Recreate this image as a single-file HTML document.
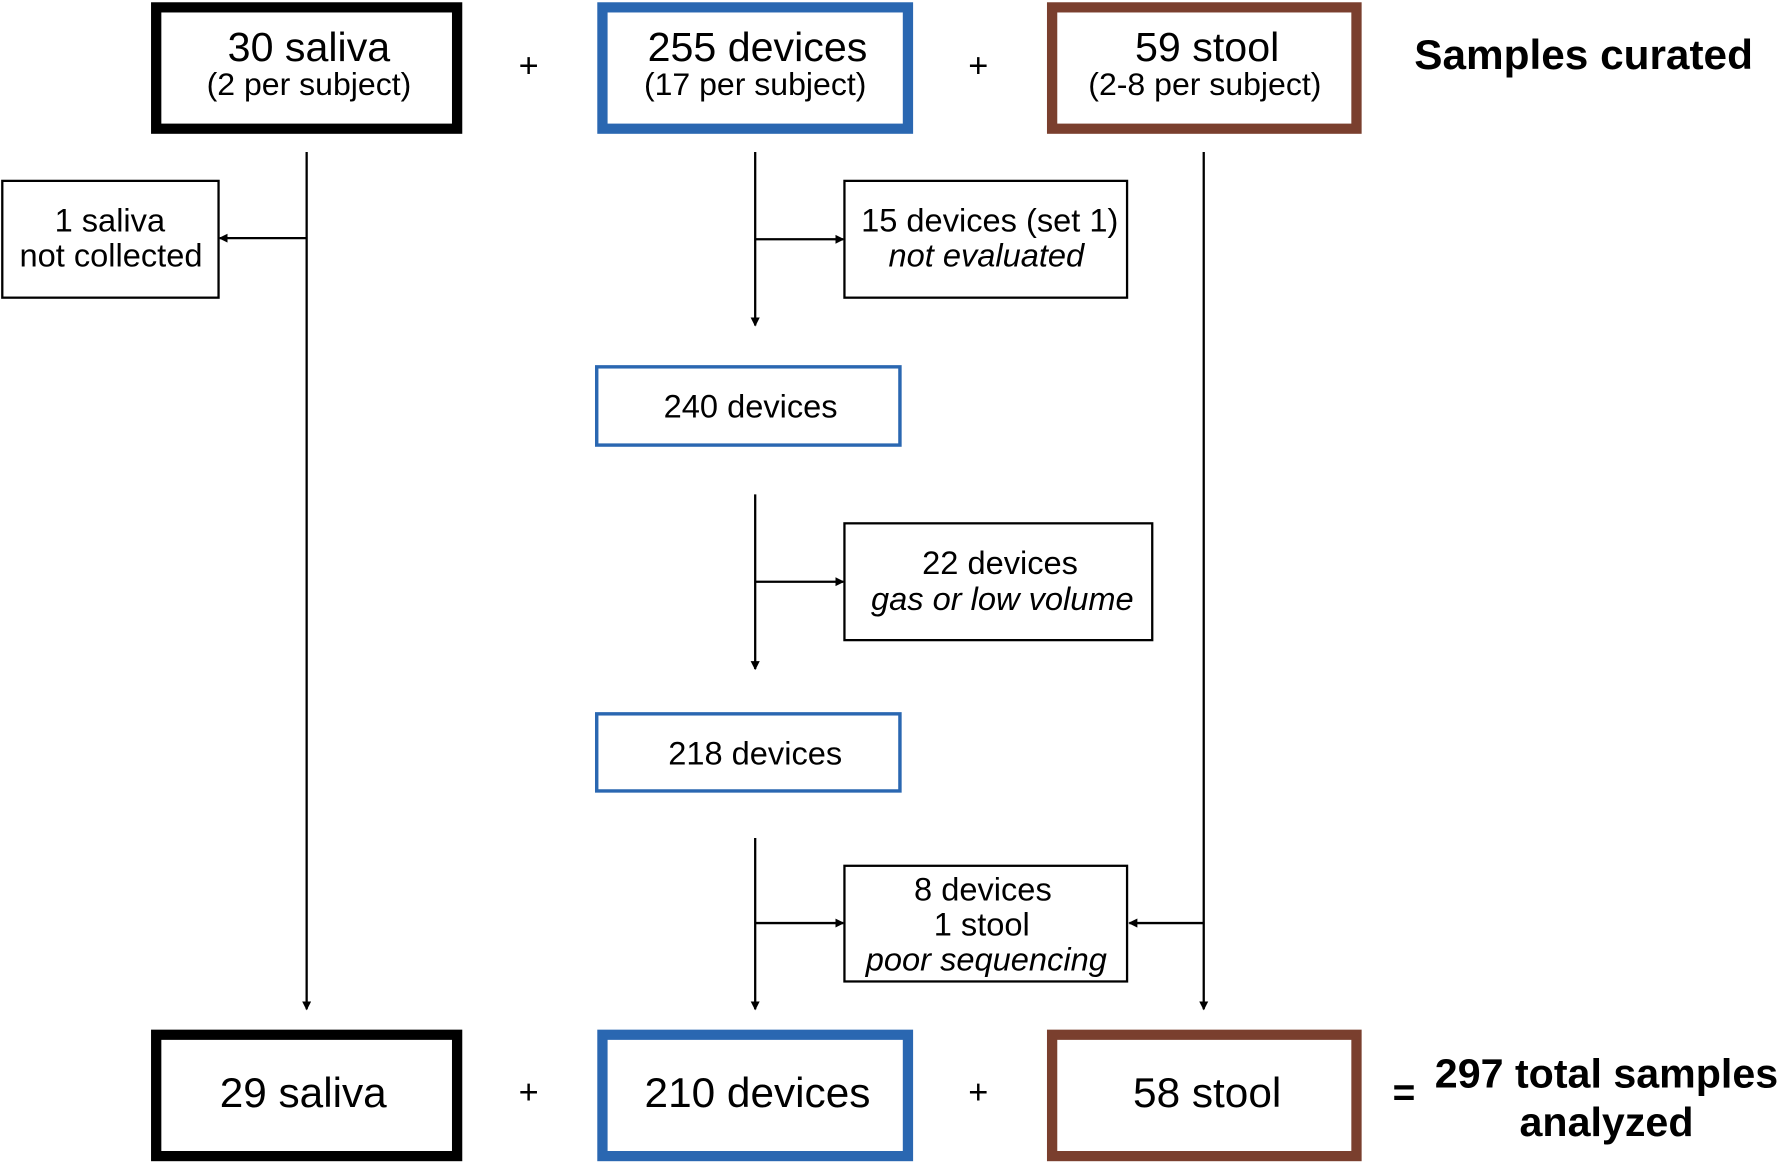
<!DOCTYPE html>
<html><head><meta charset="utf-8"><style>
html,body{margin:0;padding:0;background:#fff;}
svg{display:block;font-family:"Liberation Sans",Arial,sans-serif;}
</style></head><body>
<svg width="1785" height="1168" viewBox="0 0 1560 1030" preserveAspectRatio="none">
<defs><marker id="ah" markerWidth="8" markerHeight="8" refX="7" refY="4" orient="auto" markerUnits="userSpaceOnUse"><path d="M0,0 L8,4 L0,8 z" fill="#000"/></marker></defs>
<g>
<rect x="136.5" y="6.5" width="263" height="107" fill="none" stroke="#000" stroke-width="9"/>
<text x="270" y="54" font-size="36" text-anchor="middle">30 saliva</text>
<text x="270" y="84" font-size="28" text-anchor="middle">(2 per subject)</text></g>
<g>
<rect x="526.5" y="6.5" width="267" height="107" fill="none" stroke="#2a67b1" stroke-width="9"/>
<text x="662" y="54" font-size="36" text-anchor="middle">255 devices</text>
<text x="660" y="84" font-size="28" text-anchor="middle">(17 per subject)</text></g>
<g>
<rect x="919.5" y="6.5" width="266" height="107" fill="none" stroke="#7a3f2e" stroke-width="9"/>
<text x="1055" y="54" font-size="36" text-anchor="middle">59 stool</text>
<text x="1053" y="84" font-size="28" text-anchor="middle">(2-8 per subject)</text></g>
<text x="462" y="68" font-size="30" text-anchor="middle">+</text>
<text x="855" y="68" font-size="30" text-anchor="middle">+</text>
<text x="1384" y="61" font-size="37" font-weight="bold" text-anchor="middle">Samples curated</text>
<g stroke="#000" stroke-width="2" fill="none">
<line x1="268" y1="134" x2="268" y2="890" marker-end="url(#ah)"/>
<line x1="268" y1="210" x2="192" y2="210" marker-end="url(#ah)"/>
<line x1="660" y1="134" x2="660" y2="287" marker-end="url(#ah)"/>
<line x1="660" y1="211" x2="737" y2="211" marker-end="url(#ah)"/>
<line x1="660" y1="436" x2="660" y2="590" marker-end="url(#ah)"/>
<line x1="660" y1="513" x2="737" y2="513" marker-end="url(#ah)"/>
<line x1="660" y1="739" x2="660" y2="890" marker-end="url(#ah)"/>
<line x1="660" y1="814" x2="737" y2="814" marker-end="url(#ah)"/>
<line x1="1052" y1="134" x2="1052" y2="890" marker-end="url(#ah)"/>
<line x1="1052" y1="814" x2="987" y2="814" marker-end="url(#ah)"/>
</g>
<g>
<rect x="2" y="159.5" width="189" height="103" fill="none" stroke="#000" stroke-width="2"/>
<text x="96" y="204" font-size="28.5" text-anchor="middle">1 saliva</text>
<text x="97" y="235" font-size="28.5" text-anchor="middle">not collected</text></g>
<g>
<rect x="738" y="159.5" width="247" height="103" fill="none" stroke="#000" stroke-width="2"/>
<text x="865" y="204" font-size="28.5" text-anchor="middle">15 devices (set 1)</text>
<text x="862" y="235" font-size="28.5" font-style="italic" text-anchor="middle">not evaluated</text></g>
<g>
<rect x="521.5" y="323.5" width="265" height="69" fill="none" stroke="#2a67b1" stroke-width="3"/>
<text x="656" y="368" font-size="28.5" text-anchor="middle">240 devices</text></g>
<g>
<rect x="738" y="461.5" width="269" height="103" fill="none" stroke="#000" stroke-width="2"/>
<text x="874" y="506" font-size="28.5" text-anchor="middle">22 devices</text>
<text x="876" y="538" font-size="28.5" font-style="italic" text-anchor="middle">gas or low volume</text></g>
<g>
<rect x="521.5" y="629.5" width="265" height="68" fill="none" stroke="#2a67b1" stroke-width="3"/>
<text x="660" y="674" font-size="28.5" text-anchor="middle">218 devices</text></g>
<g>
<rect x="738" y="763.5" width="247" height="102" fill="none" stroke="#000" stroke-width="2"/>
<text x="859" y="794" font-size="28.5" text-anchor="middle">8 devices</text>
<text x="858" y="825" font-size="28.5" text-anchor="middle">1 stool</text>
<text x="862" y="856" font-size="28.5" font-style="italic" text-anchor="middle">poor sequencing</text></g>
<g>
<rect x="136.5" y="912.5" width="263" height="107" fill="none" stroke="#000" stroke-width="9"/>
<text x="265" y="976" font-size="37" text-anchor="middle">29 saliva</text></g>
<g>
<rect x="526.5" y="912.5" width="267" height="107" fill="none" stroke="#2a67b1" stroke-width="9"/>
<text x="662" y="976" font-size="37" text-anchor="middle">210 devices</text></g>
<g>
<rect x="919.5" y="912.5" width="266" height="107" fill="none" stroke="#7a3f2e" stroke-width="9"/>
<text x="1055" y="976" font-size="37" text-anchor="middle">58 stool</text></g>
<text x="462" y="973" font-size="30" text-anchor="middle">+</text>
<text x="855" y="973" font-size="30" text-anchor="middle">+</text>
<text x="1227" y="975" font-size="34" font-weight="bold" text-anchor="middle">=</text>
<g>
<text x="1404" y="959" font-size="36" font-weight="bold" text-anchor="middle">297 total samples</text>
<text x="1404" y="1002" font-size="36" font-weight="bold" text-anchor="middle">analyzed</text></g>
</svg>
</body></html>
